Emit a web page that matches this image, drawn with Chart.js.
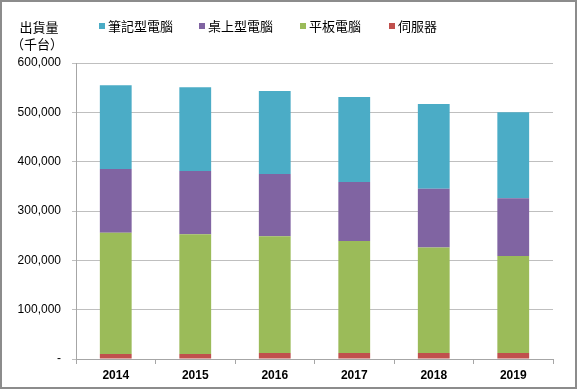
<!DOCTYPE html>
<html>
<head>
<meta charset="utf-8">
<script src="https://cdn.jsdelivr.net/npm/chart.js@4.4.0/dist/chart.umd.min.js"></script>
<style>
  html, body { margin: 0; padding: 0; background: #fff; }
  #wrap { position: relative; width: 577px; height: 389px; }
</style>
</head>
<body>
<div id="wrap"><canvas id="shipChart" width="577" height="389"></canvas></div>
<script>
// Chart data (thousand units)
const years = ['2014', '2015', '2016', '2017', '2018', '2019'];
const seriesNames = ['筆記型電腦', '桌上型電腦', '平板電腦', '伺服器'];
const notebook = [170, 170, 168, 172, 172, 174].map(v => v * 1000);
const desktop = [129, 128, 126, 120, 119, 117].map(v => v * 1000);
const tablet = [246, 243, 237, 227, 214, 197].map(v => v * 1000);
const server = [10, 10, 12, 12, 12, 12].map(v => v * 1000);
const yTicks = [0, 100000, 200000, 300000, 400000, 500000, 600000];

const colors = {
    notebook: '#4bacc6',
    desktop: '#8064a2',
    tablet: '#9bbb59',
    server: '#c0504d'
};

const fontFamily = "'Liberation Sans', Arial, sans-serif";
const cjkFont = "'Noto Sans CJK TC', 'Noto Sans CJK SC', sans-serif";

// Title, legend and frame drawn on top of the chart
const decorPlugin = {
    id: 'decor',
    afterDraw(chart) {
        const ctx = chart.ctx;
        ctx.save();
        ctx.fillStyle = '#000';
        ctx.font = '13px ' + cjkFont;
        ctx.textBaseline = 'middle';
        ctx.textAlign = 'center';
        ctx.fillText('出貨量', 39, 27);
        ctx.fillText('（千台）', 37, 44);

        // legend: order as shown in the picture
        const legendX = [99, 199, 300, 389];
        ctx.textAlign = 'left';
        chart.data.datasets.slice().reverse().forEach((ds, i) => {
            const x = legendX[i];
            ctx.fillStyle = ds.backgroundColor;
            ctx.fillRect(x, 23, 6, 6);
            ctx.fillStyle = '#000';
            ctx.fillText(ds.label, x + 9, 26);
        });

        ctx.strokeStyle = '#8c8c8c';
        ctx.lineWidth = 2;
        ctx.strokeRect(1, 1, 575, 387);
        ctx.restore();
    }
};

const shipChart = new Chart(document.getElementById('shipChart'), {
    type: 'bar',
    data: {
        labels: years,
        datasets: [
            { label: seriesNames[3], data: server, backgroundColor: colors.server },
            { label: seriesNames[2], data: tablet, backgroundColor: colors.tablet },
            { label: seriesNames[1], data: desktop, backgroundColor: colors.desktop },
            { label: seriesNames[0], data: notebook, backgroundColor: colors.notebook }
        ]
    },
    options: {
        responsive: false,
        animation: false,
        layout: {
            padding: { top: 63, left: 15, right: 24, bottom: 0 }
        },
        datasets: {
            bar: { barPercentage: 0.8, categoryPercentage: 0.5 }
        },
        plugins: {
            legend: { display: false },
            tooltip: { enabled: false }
        },
        scales: {
            x: {
                stacked: true,
                afterFit(scale) { scale.height = 30; },
                grid: {
                    drawOnChartArea: false,
                    drawTicks: true,
                    tickLength: 5,
                    color: '#a6a6a6'
                },
                border: { color: '#a6a6a6', width: 1 },
                ticks: {
                    color: '#000',
                    padding: 4,
                    font: { family: fontFamily, size: 12, weight: 'bold' }
                }
            },
            y: {
                stacked: true,
                min: 0,
                max: 600000,
                afterFit(scale) { scale.width = 61; },
                afterBuildTicks(scale) {
                    scale.ticks = yTicks.map(v => ({ value: v }));
                },
                grid: {
                    color: '#bfbfbf',
                    tickLength: 4
                },
                border: { color: '#a6a6a6', width: 1 },
                ticks: {
                    color: '#000',
                    padding: 11,
                    font: { family: fontFamily, size: 12 },
                    callback: (v) => v === 0 ? '-' : v.toLocaleString('en-US')
                }
            }
        }
    },
    plugins: [decorPlugin]
});
</script>
</body>
</html>
